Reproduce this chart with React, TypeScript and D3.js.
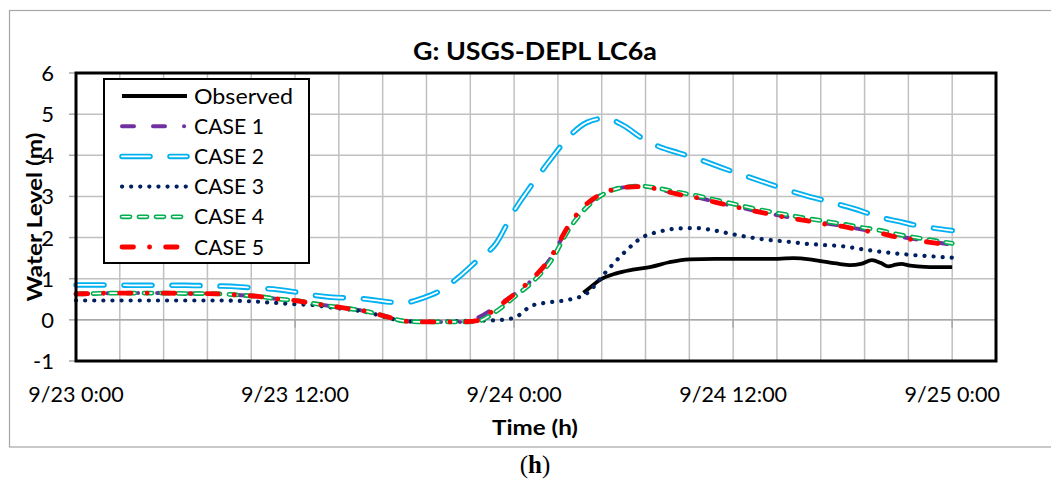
import React from "react";
import * as d3 from "d3";

// ---------- DATA ----------
const caseHours = [0,1,2,3,4,5,6,7,8,9,10,11,12,13,14,15,16,17,18,19,20,21,22,23,24,25,26,27,28,29,30,31,32,33,34,35,36,37,38,39,40,41,42,43,44,45,46,47,48];

const case1 = [0.63,0.64,0.65,0.65,0.65,0.65,0.64,0.64,0.63,0.6,0.57,0.51,0.47,0.4,0.33,0.27,0.2,0.08,-0.03,-0.05,-0.05,-0.05,0.05,0.32,0.62,0.98,1.5,2.28,2.8,3.1,3.22,3.24,3.16,3.06,2.98,2.87,2.77,2.67,2.58,2.5,2.42,2.35,2.28,2.2,2.13,2.03,1.96,1.89,1.83];
const case2 = [0.85,0.85,0.85,0.84,0.84,0.84,0.84,0.83,0.82,0.8,0.77,0.74,0.68,0.6,0.55,0.53,0.5,0.44,0.42,0.53,0.72,1.05,1.45,1.85,2.65,3.3,3.9,4.45,4.8,4.9,4.72,4.42,4.2,4.06,3.92,3.76,3.6,3.45,3.3,3.15,3.02,2.9,2.78,2.65,2.5,2.4,2.3,2.23,2.17];
const case3 = [0.47,0.47,0.47,0.47,0.47,0.47,0.47,0.47,0.47,0.46,0.44,0.41,0.38,0.36,0.3,0.25,0.18,0.06,-0.03,-0.04,-0.04,-0.03,-0.02,-0.01,0.05,0.35,0.43,0.49,0.65,1.15,1.62,2.0,2.15,2.22,2.23,2.17,2.08,2.0,1.94,1.9,1.85,1.82,1.79,1.72,1.66,1.61,1.57,1.54,1.51];
const case4 = [0.63,0.64,0.65,0.65,0.65,0.65,0.64,0.64,0.63,0.6,0.57,0.51,0.47,0.4,0.33,0.27,0.2,0.08,-0.03,-0.05,-0.05,-0.05,-0.03,0.2,0.55,0.92,1.42,2.2,2.75,3.08,3.22,3.25,3.19,3.1,3.02,2.92,2.82,2.72,2.63,2.55,2.47,2.4,2.33,2.25,2.18,2.08,2.0,1.93,1.86];
const case5 = [0.63,0.64,0.65,0.65,0.65,0.65,0.64,0.64,0.63,0.6,0.57,0.51,0.47,0.4,0.33,0.27,0.2,0.08,-0.03,-0.05,-0.05,-0.05,-0.02,0.28,0.62,1.0,1.52,2.3,2.83,3.1,3.22,3.24,3.16,3.05,2.97,2.86,2.76,2.66,2.57,2.48,2.41,2.33,2.27,2.18,2.11,2.01,1.94,1.87,1.81];

const obsHours = [27.8,28.2,28.7,29.6,30.5,31.5,32.5,33.6,35,36,38,39.3,40.2,40.9,41.8,42.4,43,43.6,44.1,44.5,44.9,45.2,45.7,46.5,48];
const observed = [0.66,0.8,0.97,1.13,1.22,1.29,1.4,1.47,1.48,1.48,1.48,1.5,1.47,1.42,1.36,1.33,1.36,1.45,1.38,1.3,1.34,1.36,1.32,1.29,1.28];

const yTicks = [-1,0,1,2,3,4,5,6];
const xLabelHours = [0,12,24,36,48];
const xLabels = ["9/23 0:00","9/23 12:00","9/24 0:00","9/24 12:00","9/25 0:00"];
const gridStepHours = 2.4;
const xMaxHours = 50.4;

const legendNames = ["Observed","CASE 1","CASE 2","CASE 3","CASE 4","CASE 5"];

// ---------- STYLES ----------
type Style = { color: string; width: number; dash?: string; cap?: string; inner?: number };
const styles: Style[] = [
  { color: "#000000", width: 3.8 },
  { color: "#7030A0", width: 4, dash: "12 19 12 19 0.1 19", cap: "round" },
  { color: "#00B0F0", width: 5.5, dash: "28 20", cap: "round", inner: 1.8 },
  { color: "#002060", width: 4.2, dash: "0.1 9", cap: "round" },
  { color: "#00B050", width: 4.8, dash: "8 9", cap: "round", inner: 1.6 },
  { color: "#FF0000", width: 4.8, dash: "11.5 16 0.1 16", cap: "round" },
];

const FONT = "Lato, 'Open Sans', sans-serif";

export default function App() {
  const left = 76, right = 996, top = 73, bottom = 361;
  const x = d3.scaleLinear().domain([0, xMaxHours]).range([left, right]);
  const y = d3.scaleLinear().domain([-1, 6]).range([bottom, top]);

  const line = d3
    .line<[number, number]>()
    .x((d) => x(d[0]))
    .y((d) => y(d[1]))
    .curve(d3.curveMonotoneX);

  const seriesData: [number, number][][] = [
    obsHours.map((h, i) => [h, observed[i]]),
    caseHours.map((h, i) => [h, case1[i]]),
    caseHours.map((h, i) => [h, case2[i]]),
    caseHours.map((h, i) => [h, case3[i]]),
    caseHours.map((h, i) => [h, case4[i]]),
    caseHours.map((h, i) => [h, case5[i]]),
  ];

  const vGrid: number[] = [];
  for (let k = 0; k <= Math.round(xMaxHours / gridStepHours); k++) vGrid.push(k * gridStepHours);

  const renderStroke = (d: string, s: Style, key: string) => (
    <g key={key}>
      <path d={d} fill="none" stroke={s.color} strokeWidth={s.width}
        strokeDasharray={s.dash} strokeLinecap={(s.cap as any) || "butt"} strokeLinejoin="round" />
      {s.inner ? (
        <path d={d} fill="none" stroke="#ffffff" strokeWidth={s.inner}
          strokeDasharray={s.dash} strokeLinecap={(s.cap as any) || "butt"} strokeLinejoin="round" />
      ) : null}
    </g>
  );

  const legX = 104, legY = 79, legW = 205, legH = 184, rowH = 30.2;
  const legendWidths = [99, 70, 70, 70, 70, 70];

  return (
    <svg width={1051} height={482} style={{ position: "absolute", left: 0, top: 0, background: "#fff" }}>
      <rect x={0} y={0} width={1051} height={482} fill="#fff" />
      {/* outer chart border (right edge lies outside the picture) */}
      <rect x={9.5} y={10.5} width={1060} height={436.5} fill="#fff" stroke="#a6a6a6" strokeWidth={1.2} />

      {/* title */}
      <text x={535} y={60} textAnchor="middle" fontFamily={FONT} fontWeight="bold" fontSize={24}
        textLength={244} lengthAdjust="spacingAndGlyphs">
        G: USGS-DEPL LC6a
      </text>

      {/* grid */}
      {yTicks.map((t) => (
        <line key={"hy" + t} x1={left} x2={right} y1={y(t)} y2={y(t)} stroke="#c0c0c0" strokeWidth={1.5} />
      ))}
      {vGrid.map((h) => (
        <line key={"vx" + h} x1={x(h)} x2={x(h)} y1={top} y2={bottom} stroke="#c0c0c0" strokeWidth={1.5} />
      ))}
      {/* horizontal axis at 0 with ticks */}
      <line x1={left} x2={right} y1={y(0)} y2={y(0)} stroke="#a8a8a8" strokeWidth={1.5} />
      {xLabelHours.map((h) => (
        <line key={"xt" + h} x1={x(h)} x2={x(h)} y1={y(0)} y2={y(0) + 8} stroke="#a8a8a8" strokeWidth={1.5} />
      ))}
      {/* y ticks */}
      {yTicks.map((t) => (
        <line key={"yt" + t} x1={left - 7} x2={left} y1={y(t)} y2={y(t)} stroke="#a8a8a8" strokeWidth={1.5} />
      ))}

      {/* series */}
      {seriesData.map((data, i) => renderStroke(line(data) || "", styles[i], "s" + i))}

      {/* plot border */}
      <rect x={left} y={top} width={right - left} height={bottom - top} fill="none" stroke="#000" strokeWidth={3} />

      {/* axis titles */}
      <text x={535} y={435} textAnchor="middle" fontFamily={FONT} fontWeight="bold" fontSize={21}
        textLength={86} lengthAdjust="spacingAndGlyphs">
        Time (h)
      </text>
      <text transform={`translate(42,217) rotate(-90)`} textAnchor="middle" fontFamily={FONT} fontWeight="bold" fontSize={21}
        textLength={169} lengthAdjust="spacingAndGlyphs">
        Water Level (m)
      </text>

      {/* y tick labels */}
      {yTicks.map((t) => (
        <text key={"yl" + t} x={54} y={y(t) + 8} textAnchor="end" fontFamily={FONT} fontSize={22}>
          {t}
        </text>
      ))}
      {/* x tick labels */}
      {xLabelHours.map((h, i) => (
        <text key={"xl" + h} x={x(h)} y={402} textAnchor="middle" fontFamily={FONT} fontSize={21.5}>
          {xLabels[i]}
        </text>
      ))}

      {/* legend */}
      <rect x={legX} y={legY} width={legW} height={legH} fill="#fff" stroke="#000" strokeWidth={2} />
      {legendNames.map((name, i) => {
        const cy = 96 + i * rowH;
        const d = `M${122},${cy}L${187},${cy}`;
        return (
          <g key={"lg" + i}>
            {renderStroke(d, styles[i], "lgs" + i)}
            <text x={194} y={cy + 7.5} fontFamily={FONT} fontSize={21}
              textLength={legendWidths[i]} lengthAdjust="spacingAndGlyphs">
              {name}
            </text>
          </g>
        );
      })}

      {/* caption */}
      <text x={535} y={473} textAnchor="middle" fontFamily="'Liberation Serif', 'DejaVu Serif', serif" fontSize={25}>
        (<tspan fontWeight="bold">h</tspan>)
      </text>
    </svg>
  );
}
